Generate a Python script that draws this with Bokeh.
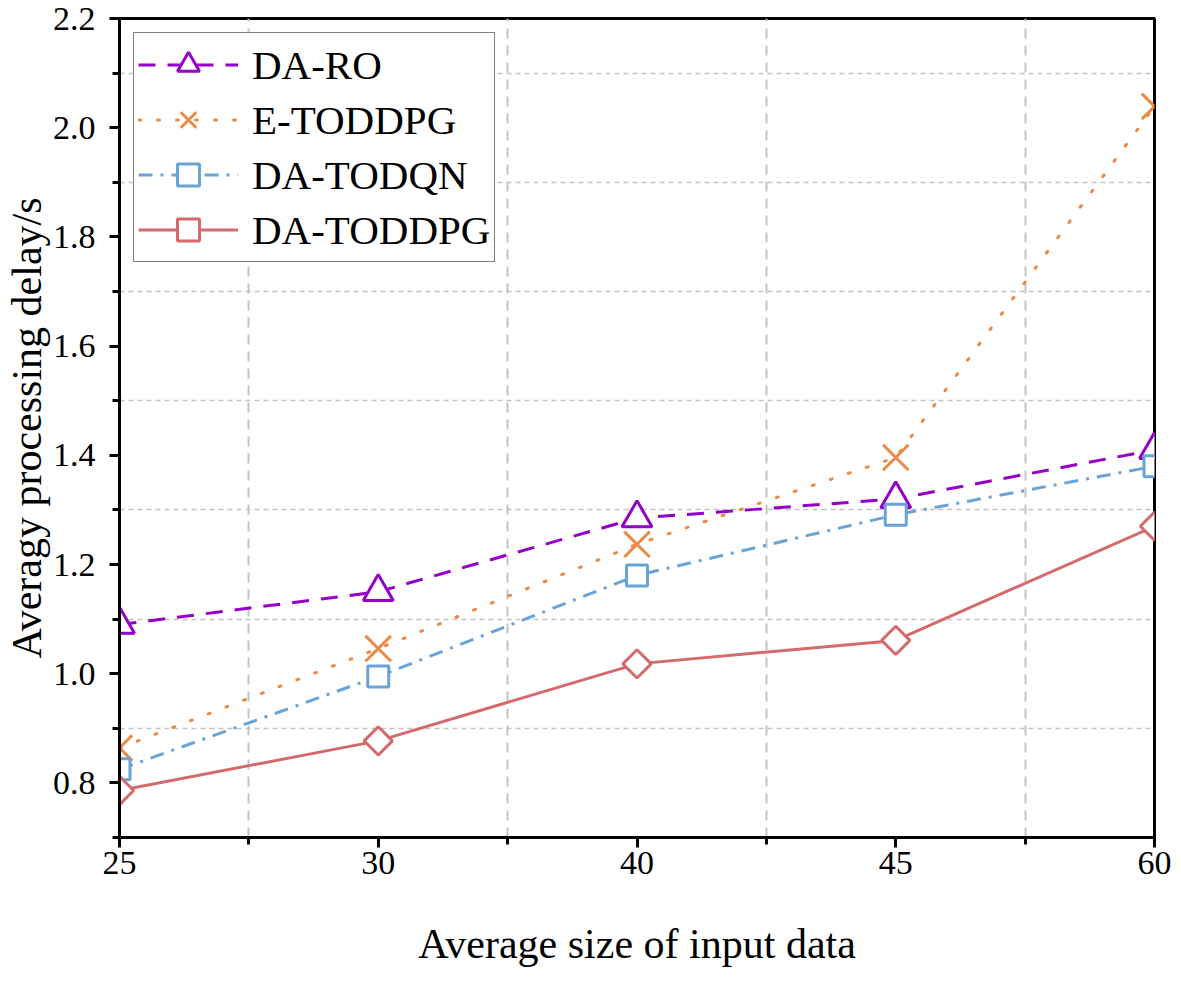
import math
from bokeh.plotting import figure
from bokeh.models import FixedTicker, Range1d, Legend, LegendItem
from bokeh.embed import file_html
from bokeh.resources import INLINE

x_labels = ["25", "30", "40", "45", "60"]
da_ro = [1.09, 1.15, 1.285, 1.32, 1.41]
e_toddpg = [0.864, 1.046, 1.237, 1.396, 2.039]
da_todqn = [0.825, 0.995, 1.18, 1.291, 1.38]
da_toddpg = [0.786, 0.877, 1.018, 1.061, 1.27]

y_ticks = [0.8, 1.0, 1.2, 1.4, 1.6, 1.8, 2.0, 2.2]
y_minor = [0.7, 0.9, 1.1, 1.3, 1.5, 1.7, 1.9, 2.1]

xs = list(range(len(x_labels)))
FONT = "Liberation Serif"

p = figure(frame_width=1035, frame_height=819, output_backend="svg",
           toolbar_location=None, min_border_left=112, min_border_top=18,
           min_border_right=18, min_border_bottom=4,
           x_range=Range1d(0, 4), y_range=Range1d(0.7, 2.2))

p.outline_line_color = "black"
p.outline_line_width = 3
p.outline_line_alpha = 1

p.xaxis.ticker = FixedTicker(ticks=xs, minor_ticks=[0.5, 1.5, 2.5, 3.5])
p.xaxis.major_label_overrides = {i: l for i, l in enumerate(x_labels)}
p.yaxis.ticker = FixedTicker(ticks=y_ticks, minor_ticks=y_minor)
p.yaxis.major_label_overrides = {v: f"{v:.1f}" for v in y_ticks}

for ax in (p.xaxis[0], p.yaxis[0]):
    ax.axis_line_width = 3
    ax.axis_line_color = "black"
    ax.major_tick_line_width = 3
    ax.minor_tick_line_width = 3
    ax.major_tick_line_color = "black"
    ax.minor_tick_line_color = "black"
    ax.major_tick_in = 0
    ax.major_tick_out = 10
    ax.minor_tick_in = 0
    ax.minor_tick_out = 7
    ax.major_label_text_font = FONT
    ax.major_label_text_font_size = "34px"
    ax.major_label_text_font_style = "normal"
    ax.major_label_text_color = "black"
    ax.axis_label_text_font = FONT
    ax.axis_label_text_font_size = "42px"
    ax.axis_label_text_font_style = "normal"
    ax.axis_label_text_color = "black"

p.xaxis.axis_label = "Average size of input data"
p.yaxis.axis_label = "Averagy processing delay/s"
p.xaxis.major_label_standoff = 4
p.xaxis.axis_label_standoff = 44
p.yaxis.major_label_standoff = 14
p.yaxis.axis_label_standoff = 0

p.xgrid.grid_line_color = None
p.xgrid.minor_grid_line_color = "#c4c4c4"
p.xgrid.minor_grid_line_width = 2
p.xgrid.minor_grid_line_dash = "10 7"
p.ygrid.grid_line_color = None
p.ygrid.minor_grid_line_color = "#c4c4c4"
p.ygrid.minor_grid_line_width = 1.3
p.ygrid.minor_grid_line_dash = "5 4"

series = [
    ("DA-RO", da_ro, "#9400C8", "17 12", "triangle", 30, 0),
    ("E-TODDPG", e_toddpg, "#EB8A45", "2 17", "x", 36, 0),
    ("DA-TODQN", da_todqn, "#6AA3D5", "14 8 3 8", "square", 21, 0),
    ("DA-TODDPG", da_toddpg, "#D46A6B", "solid", "square", 20, math.pi / 4),
]

items = []
for name, ys, color, dash, marker, size, ang in series:
    ln = p.line(xs, ys, line_color=color, line_width=3, line_dash=dash,
                line_cap="round" if name == "E-TODDPG" else "butt")
    sc = p.scatter(xs, ys, marker=marker, size=size, angle=ang,
                   line_color=color, line_width=3, fill_color="white")
    items.append(LegendItem(label=name, renderers=[ln, sc]))

legend = Legend(items=items, location="top_left")
legend.margin = 14
legend.padding = 4
legend.spacing = 0
legend.glyph_width = 100
legend.glyph_height = 55
legend.label_height = 55
legend.label_standoff = 14
legend.label_text_font = FONT
legend.label_text_font_size = "41px"
legend.label_text_font_style = "normal"
legend.label_text_color = "black"
legend.border_line_color = "black"
legend.border_line_width = 1.5
legend.background_fill_alpha = 1
p.add_layout(legend, "center")

open("out.html", "w").write(file_html(p, INLINE))
